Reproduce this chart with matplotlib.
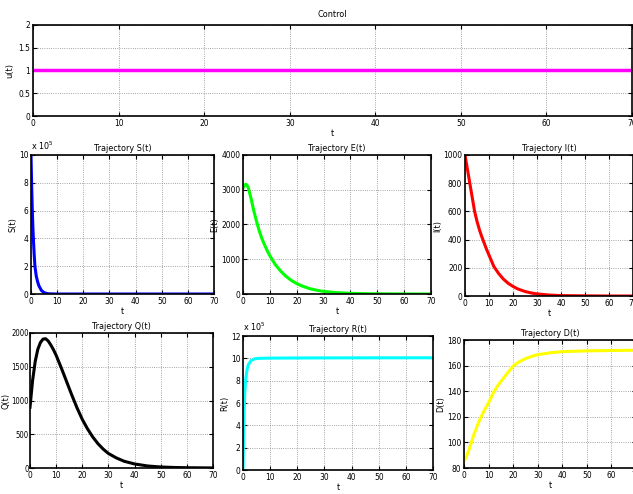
import matplotlib
matplotlib.use("Agg")
import matplotlib.pyplot as plt
from matplotlib import font_manager

names = {f.name for f in font_manager.fontManager.ttflist}
narrow = [n for n in ['Liberation Sans Narrow', 'DejaVu Sans Condensed'] if n in names]
plt.rcParams['font.family'] = narrow + ['DejaVu Sans']
plt.rcParams['font.stretch'] = 'condensed'
plt.rcParams['font.size'] = 6.5

# Control u(t)
t_u = [0, 70]
u_vals = [1, 1]

# S(t), in units of 1e5
t_s = [0, 0.25, 0.5, 0.7, 0.9, 1.2, 1.5, 2, 2.5, 3, 4, 5, 6, 7, 10, 70]
s_vals = [10, 7.8, 6.0, 4.9, 4.0, 2.9, 2.0, 1.3, 0.9, 0.6, 0.25, 0.1, 0.04, 0.01, 0, 0]

# E(t)
t_e = [0, 0.5, 1, 1.5, 2, 3, 4, 5, 6, 7, 8, 9, 10, 12, 14, 16, 18, 20, 22, 25,
       28, 30, 35, 40, 45, 50, 60, 70]
e_vals = [3050, 3130, 3160, 3130, 3050, 2750, 2400, 2100, 1830, 1600, 1420, 1250,
          1100, 850, 660, 510, 390, 300, 230, 150, 100, 75, 38, 20, 10, 5, 1, 0]

# I(t)
t_i = [0, 1, 2, 3, 4, 5, 6, 7, 8, 9, 10, 12, 14, 16, 18, 20, 22, 25, 28, 30,
       35, 40, 50, 60, 70]
i_vals = [1000, 900, 800, 700, 600, 530, 470, 420, 375, 330, 290, 210, 160, 120,
          90, 68, 50, 32, 20, 15, 7, 3, 1, 0, 0]

# Q(t)
t_q = [0, 0.5, 1, 2, 3, 4, 5, 6, 7, 8, 9, 10, 12, 14, 16, 18, 20, 22, 24, 26,
       28, 30, 33, 36, 40, 45, 50, 55, 60, 70]
q_vals = [900, 1100, 1300, 1580, 1760, 1860, 1910, 1915, 1880, 1820, 1750, 1670,
          1480, 1280, 1080, 890, 720, 580, 460, 360, 280, 215, 150, 100, 60, 30,
          15, 8, 4, 1]

# R(t), in units of 1e5
t_r = [0, 0.2, 0.4, 0.6, 0.8, 1, 1.5, 2, 3, 4, 5, 6, 10, 30, 70]
r_vals = [0, 3.0, 5.2, 6.6, 7.5, 8.1, 9.0, 9.45, 9.8, 9.93, 9.98, 10.0, 10.02,
          10.04, 10.05]

# D(t)
t_d = [0, 1, 2, 3, 4, 5, 6, 7, 8, 10, 12, 14, 16, 18, 20, 22, 25, 28, 30, 35,
       40, 50, 60, 70]
d_vals = [85.5, 89, 94, 100, 106, 111, 116, 120, 124, 131, 139, 145, 150, 155,
          159.5, 162.5, 165.5, 167.5, 168.5, 170, 170.9, 171.5, 171.8, 172]

W, H = 633, 494
fig = plt.figure(figsize=(W / 100, H / 100), dpi=100)


def add_axes_px(x0, y0, x1, y1):
    # pixel box (top-left origin) -> figure fraction
    return fig.add_axes([x0 / W, 1 - y1 / H, (x1 - x0) / W, (y1 - y0) / H])


def style(ax, ylim, yticks):
    ax.set_xlim(0, 70)
    ax.set_xticks(range(0, 71, 10))
    ax.set_ylim(*ylim)
    ax.set_yticks(yticks)
    ax.tick_params(direction='in', top=True, right=True, length=3, width=0.8,
                   labelsize=6, pad=2)
    ax.grid(True, linestyle=':', color='#888888', linewidth=0.6)
    for sp in ax.spines.values():
        sp.set_linewidth(1.2)


# Control
ax = add_axes_px(33, 25, 632, 116)
ax.plot(t_u, u_vals, color='magenta', linewidth=2.5)
style(ax, (0, 2), [0, 0.5, 1, 1.5, 2])
ax.set_yticklabels(['0', '0.5', '1', '1.5', '2'])
ax.set_title('Control', fontsize=6.5, pad=6)
ax.set_ylabel('u(t)', labelpad=3)
ax.set_xlabel('t', labelpad=1)

panels = [
    ((31, 155, 214, 294), t_s, s_vals, 'blue', (0, 10), range(0, 11, 2), 'S(t)', True),
    ((243, 155, 431, 294), t_e, e_vals, '#00ff00', (0, 4000), range(0, 4001, 1000), 'E(t)', False),
    ((465, 155, 633, 296), t_i, i_vals, 'red', (0, 1000), range(0, 1001, 200), 'I(t)', False),
    ((30, 333, 213, 468), t_q, q_vals, 'black', (0, 2000), range(0, 2001, 500), 'Q(t)', False),
    ((243, 336, 433, 470), t_r, r_vals, 'cyan', (0, 12), range(0, 13, 2), 'R(t)', True),
    ((464, 340, 636, 468), t_d, d_vals, '#ffff00', (80, 180), range(80, 181, 20), 'D(t)', False),
]

for box, tx, vals, col, ylim, yt, name, scaled in panels:
    ax = add_axes_px(*box)
    ax.plot(tx, vals, color=col, linewidth=2.2)
    style(ax, ylim, list(yt))
    ax.set_title('Trajectory ' + name, fontsize=6.5, pad=3)
    ax.set_ylabel(name, labelpad=1)
    ax.set_xlabel('t', labelpad=1)
    if name == 'Q(t)':
        # keep the label inside the figure, as in the reference
        ax.tick_params(axis='y', pad=1, labelsize=5.5)
        ax.yaxis.set_label_coords((10 - box[0]) / (box[2] - box[0]), 0.5)
    if scaled:
        ax.text(0.0, 1.02, r'x 10$^5$', transform=ax.transAxes, fontsize=6.5,
                ha='left', va='bottom')

fig.savefig('out.png', dpi=100)
